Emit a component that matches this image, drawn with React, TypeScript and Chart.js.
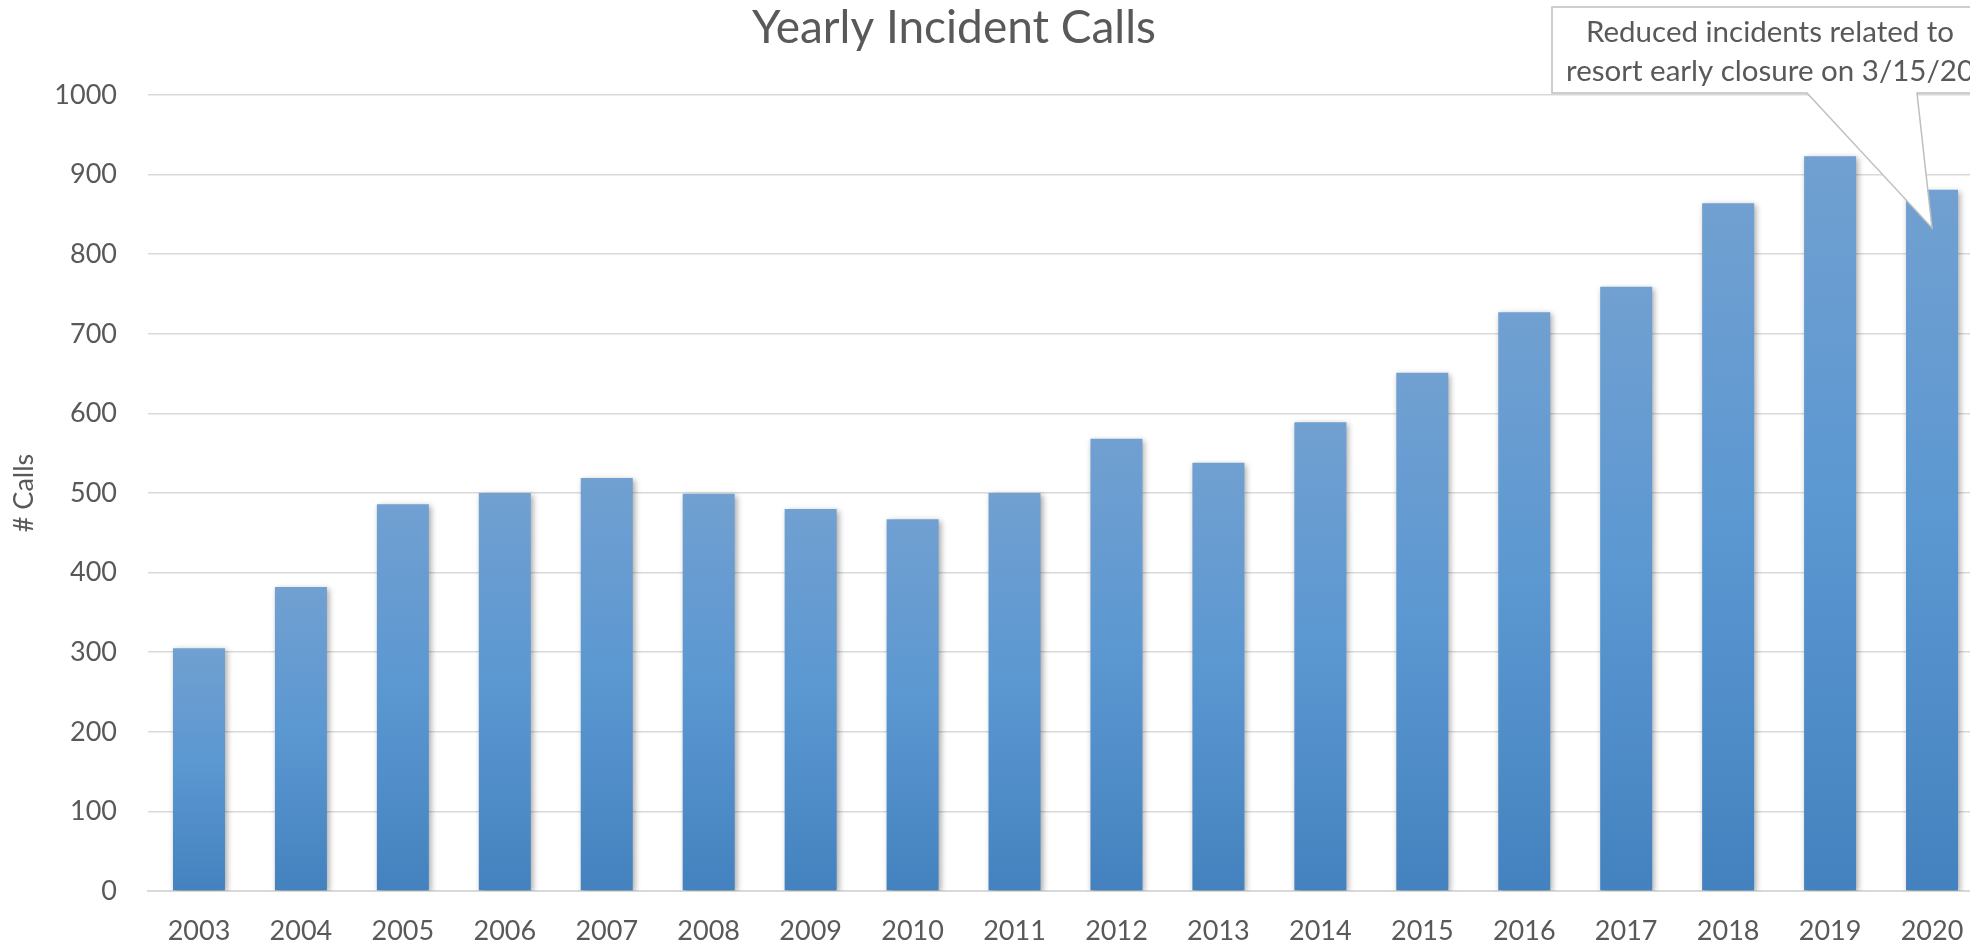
import React, { useEffect, useRef } from "react";
import { Chart, registerables } from "chart.js";

Chart.register(...registerables);

const years = ["2003","2004","2005","2006","2007","2008","2009","2010","2011","2012","2013","2014","2015","2016","2017","2018","2019","2020"];
const calls = [305, 382, 486, 500, 519, 499, 480, 467, 500, 568, 538, 589, 651, 727, 759, 864, 923, 881];
const chartTitle = "Yearly Incident Calls";
const yAxisTitle = "# Calls";
const noteLines = ["Reduced incidents related to", "resort early closure on 3/15/20"];
const noteIndex = 17;
const noteTipValue = 833;

const TEXT = "#595959";
const FONT = "Lato";

const titlePlugin = {
  id: "excelTitle",
  afterDraw(chart: any) {
    const c = chart.ctx;
    c.save();
    c.fillStyle = TEXT;
    c.font = `46px ${FONT}`;
    c.textAlign = "center";
    c.textBaseline = "alphabetic";
    c.fillText(chartTitle, 954, 43);
    c.restore();
  },
};

const notePlugin = {
  id: "callout",
  afterDraw(chart: any) {
    const c = chart.ctx;
    const xs = chart.scales.x;
    const ys = chart.scales.y;
    const tipX = xs.getPixelForValue(noteIndex);
    const tipY = ys.getPixelForValue(noteTipValue);
    const left = 1552, top = 7, right = 1988, bottom = 93;
    c.save();
    c.beginPath();
    c.moveTo(left, top);
    c.lineTo(right, top);
    c.lineTo(right, bottom);
    c.lineTo(1917, bottom);
    c.lineTo(tipX, tipY);
    c.lineTo(1807, bottom);
    c.lineTo(left, bottom);
    c.closePath();
    c.fillStyle = "#ffffff";
    c.fill();
    c.strokeStyle = "#bfbfbf";
    c.lineWidth = 1.5;
    c.stroke();
    c.fillStyle = TEXT;
    c.font = `29.5px ${FONT}`;
    c.textAlign = "center";
    c.textBaseline = "alphabetic";
    c.fillText(noteLines[0], 1770, 42);
    c.fillText(noteLines[1], 1770, 81);
    c.restore();
  },
};

const shadowPlugin = {
  id: "barShadow",
  beforeDatasetsDraw(chart: any) {
    const c = chart.ctx;
    c.save();
    c.shadowColor = "rgba(0,0,0,0.35)";
    c.shadowBlur = 6;
    c.shadowOffsetX = 2;
    c.shadowOffsetY = 2;
  },
  afterDatasetsDraw(chart: any) {
    chart.ctx.restore();
  },
};

export default function App() {
  const ref = useRef<HTMLCanvasElement | null>(null);
  useEffect(() => {
    if (!ref.current) return;
    const chart = new Chart(ref.current, {
      type: "bar",
      data: {
        labels: years,
        datasets: [
          {
            data: calls,
            backgroundColor: (ctx: any) => {
              const ch = ctx.chart;
              if (!ch.chartArea || ctx.type !== "data") return "#5b97d0";
              const ys = ch.scales.y;
              const v = ctx.parsed ? ctx.parsed.y : ctx.raw;
              const t = ys.getPixelForValue(v);
              const b = ys.getPixelForValue(0);
              const g = ch.ctx.createLinearGradient(0, t, 0, b);
              g.addColorStop(0, "#71a0d1");
              g.addColorStop(0.5, "#5a97d1");
              g.addColorStop(1, "#4482bf");
              return g;
            },
            borderWidth: 0,
            barPercentage: 0.51,
            categoryPercentage: 1,
          },
        ],
      },
      options: {
        responsive: false,
        animation: false,
        devicePixelRatio: 1,
        layout: { padding: { top: 95, right: 27, left: 0, bottom: 0 } },
        plugins: {
          legend: { display: false },
          tooltip: { enabled: false },
          title: { display: false },
        },
        scales: {
          x: {
            offset: true,
            grid: { display: false, drawTicks: false },
            border: { display: true, color: "#d9d9d9", width: 2 },
            ticks: { color: TEXT, font: { family: FONT, size: 27 }, padding: 24, maxRotation: 0, autoSkip: false },
            afterFit(scale: any) { scale.height = 55; },
          },
          y: {
            min: 0,
            max: 1000,
            ticks: { stepSize: 100, color: TEXT, font: { family: FONT, size: 27 }, padding: 31, callback: (v: any) => String(v) },
            grid: { color: "#d9d9d9", lineWidth: 1.5, drawTicks: false },
            border: { display: false },
            title: { display: true, text: yAxisTitle, color: TEXT, font: { family: FONT, size: 27 }, padding: { top: 8, bottom: 0 } },
            afterFit(scale: any) { scale.width = 148; },
          },
        },
      },
      plugins: [shadowPlugin, titlePlugin, notePlugin],
    });
    return () => chart.destroy();
  }, []);
  return (
    <div style={{ position: "fixed", left: 0, top: 0, width: 1970, height: 946, overflow: "hidden", background: "#ffffff" }}>
      <canvas ref={ref} width={2010} height={946} style={{ display: "block", width: 2010, height: 946 }} />
    </div>
  );
}
